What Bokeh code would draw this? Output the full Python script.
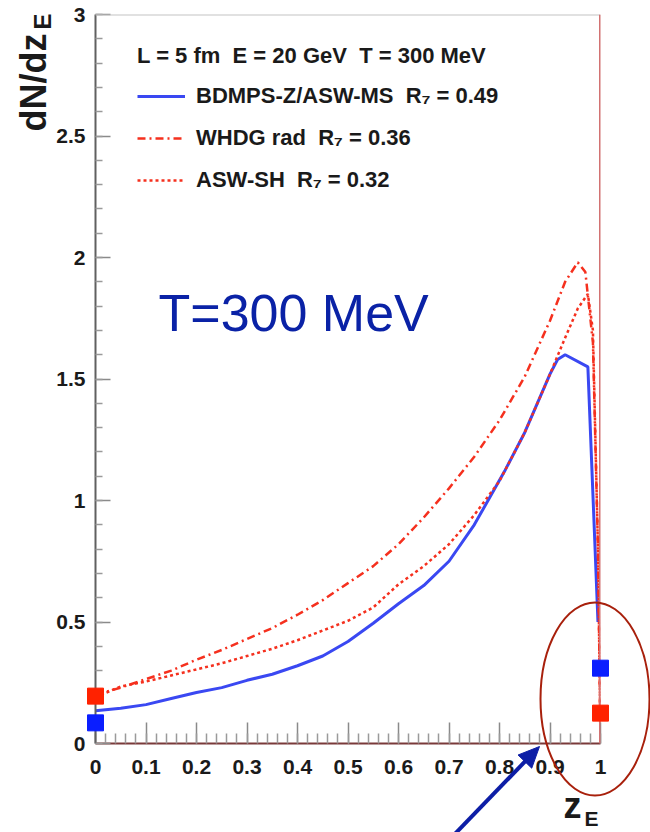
from bokeh.plotting import figure
from bokeh.models import (Range1d, FixedTicker, Label, Span, Legend, LegendItem)
from bokeh.core.properties import value
from bokeh.embed import file_html
from bokeh.resources import INLINE
import math

# ---------------- data ----------------
z_bdmps = [0.0, 0.05, 0.1, 0.15, 0.2, 0.25, 0.3, 0.35, 0.4, 0.45, 0.5, 0.55,
           0.6, 0.65, 0.7, 0.75, 0.81, 0.85, 0.9, 0.915, 0.93, 0.975, 0.995]
dn_bdmps = [0.135, 0.145, 0.16, 0.185, 0.21, 0.23, 0.26, 0.285, 0.32, 0.36,
            0.42, 0.495, 0.575, 0.65, 0.75, 0.90, 1.12, 1.28, 1.52, 1.58,
            1.60, 1.55, 0.50]

z_whdg = [0.0, 0.05, 0.1, 0.15, 0.2, 0.25, 0.3, 0.35, 0.4, 0.45, 0.5, 0.55,
          0.6, 0.65, 0.7, 0.75, 0.8, 0.85, 0.9, 0.93, 0.955, 0.97, 0.985,
          0.995, 1.0]
dn_whdg = [0.20, 0.23, 0.265, 0.30, 0.345, 0.385, 0.43, 0.475, 0.53, 0.59,
           0.66, 0.73, 0.82, 0.93, 1.05, 1.18, 1.33, 1.51, 1.74, 1.90, 1.98,
           1.94, 1.65, 0.80, 0.0]

z_asw = [0.0, 0.05, 0.1, 0.15, 0.2, 0.25, 0.3, 0.35, 0.4, 0.45, 0.5, 0.55,
         0.6, 0.65, 0.7, 0.75, 0.8, 0.85, 0.9, 0.93, 0.955, 0.975, 0.985,
         0.995, 1.0]
dn_asw = [0.19, 0.235, 0.255, 0.28, 0.305, 0.33, 0.36, 0.39, 0.425, 0.465,
          0.505, 0.56, 0.655, 0.73, 0.82, 0.94, 1.08, 1.28, 1.52, 1.67, 1.79,
          1.85, 1.70, 0.80, 0.0]

# discrete weights at z=0 and z=1
end_z = [0.0, 1.0]
end_bdmps = [0.085, 0.31]
end_red = [0.195, 0.125]

x_ticks = [0, 0.1, 0.2, 0.3, 0.4, 0.5, 0.6, 0.7, 0.8, 0.9, 1]
x_tick_labels = ["0", "0.1", "0.2", "0.3", "0.4", "0.5", "0.6", "0.7", "0.8", "0.9", "1"]
y_ticks = [0, 0.5, 1, 1.5, 2, 2.5, 3]
y_tick_labels = ["0", "0.5", "1", "1.5", "2", "2.5", "3"]

legend_header = "L = 5 fm  E = 20 GeV  T = 300 MeV"
legend_labels = ["BDMPS-Z/ASW-MS  R\u2087 = 0.49",
                 "WHDG rad  R\u2087 = 0.36",
                 "ASW-SH  R\u2087 = 0.32"]
big_label = "T=300 MeV"

# ---------------- layout ----------------
W, H = 650, 832
BL, BR, BT, BB = 95, 50, 14, 89
FW, FH = W - BL - BR, H - BT - BB
X0, X1, Y0, Y1 = 0.0, 1.0, 0.0, 3.0
FONT = "Liberation Sans"
INK = "#1a1a1a"


def dx(px):
    return X0 + (px - BL) / FW * (X1 - X0)


def dy(py):
    return Y0 + (H - BB - py) / FH * (Y1 - Y0)


p = figure(width=W, height=H, x_range=Range1d(X0, X1), y_range=Range1d(Y0, Y1),
           output_backend="svg", toolbar_location=None, title=None,
           min_border_left=BL, min_border_right=BR, min_border_top=BT,
           min_border_bottom=BB)
p.background_fill_color = "white"
p.border_fill_color = "white"
p.outline_line_color = None
p.grid.visible = False

# x axis
xa = p.xaxis[0]
xa.ticker = FixedTicker(ticks=x_ticks, minor_ticks=[i * 0.02 for i in range(51)])
xa.major_label_overrides = dict(zip(x_ticks, x_tick_labels))
xa.axis_line_color = "#7a3a3a"
xa.axis_line_width = 2
xa.major_tick_in = 21
xa.major_tick_out = 0
xa.minor_tick_in = 10
xa.minor_tick_out = 0
xa.major_tick_line_color = "#8a8a8a"
xa.minor_tick_line_color = "#9a9a9a"
xa.major_tick_line_width = 1.5
xa.minor_tick_line_width = 1.5
xa.major_label_standoff = 16
xa.major_label_text_font = FONT
xa.major_label_text_font_style = "bold"
xa.major_label_text_font_size = "21px"
xa.major_label_text_color = INK

# y axis
ya = p.yaxis[0]
ya.ticker = FixedTicker(ticks=y_ticks, minor_ticks=[i * 0.1 for i in range(31)])
ya.major_label_overrides = dict(zip(y_ticks, y_tick_labels))
ya.axis_line_color = "#606060"
ya.axis_line_width = 2
ya.major_tick_in = 15
ya.major_tick_out = 0
ya.minor_tick_in = 7
ya.minor_tick_out = 0
ya.major_tick_line_color = "#8a8a8a"
ya.minor_tick_line_color = "#9a9a9a"
ya.major_tick_line_width = 1.5
ya.minor_tick_line_width = 1.5
ya.major_label_standoff = 10
ya.major_label_text_font = FONT
ya.major_label_text_font_style = "bold"
ya.major_label_text_font_size = "21px"
ya.major_label_text_color = INK

# frame top / right borders
p.add_layout(Span(location=Y1, dimension="width", line_color="#c4c4c4", line_width=2))
p.add_layout(Span(location=X1, dimension="height", line_color="#d27272", line_width=3))

BLUE = "#3a48f2"
RED = "#f5301e"

r_b = p.line(z_bdmps, dn_bdmps, line_color=BLUE, line_width=3)
r_w = p.line(z_whdg, dn_whdg, line_color=RED, line_width=2.5, line_dash="8 4 2 4")
r_a = p.line(z_asw, dn_asw, line_color=RED, line_width=2.5, line_dash="3 3")

p.scatter(end_z, end_red, marker="square", size=16, fill_color="#ff2200",
          line_color="#ff2200", level="overlay")
p.scatter(end_z, end_bdmps, marker="square", size=16, fill_color="#0a1eff",
          line_color="#0a1eff", level="overlay")

# legend
legend = Legend(items=[LegendItem(label=legend_labels[0], renderers=[r_b]),
                       LegendItem(label=legend_labels[1], renderers=[r_w]),
                       LegendItem(label=legend_labels[2], renderers=[r_a])],
                location=(42, 542), title=legend_header,
                title_text_font=FONT, title_text_font_style="bold",
                title_text_font_size="22px", title_text_color=INK,
                title_standoff=6,
                label_text_font=FONT, label_text_font_style="bold",
                label_text_font_size="22px", label_text_color=INK,
                glyph_width=48, glyph_height=42, label_height=42,
                label_standoff=11, spacing=0, padding=0, margin=0,
                border_line_color=None, background_fill_alpha=0)
p.add_layout(legend)

# big blue label
p.add_layout(Label(x=dx(158), y=dy(312), text=big_label, text_font=FONT,
                   text_font_size="52px", text_color="#0a22a6",
                   text_baseline="alphabetic", text_align="left"))


# axis titles: text glyphs on the overlay level so they are not clipped to the frame.
# (bx, by) is the wanted baseline point; the anchor is the em-box middle.
def title_text(bx, by, txt, size, rotated=False, align="left"):
    shift = 0.3465 * size
    if rotated:
        ax, ay, ang = bx - shift, by, math.pi / 2
    else:
        ax, ay, ang = bx, by - shift, 0.0
    p.text(x=[dx(ax)], y=[dy(ay)], text=[txt], text_font=value(FONT),
           text_font_style="bold", text_font_size=value(f"{size}px"),
           text_color=INK, text_baseline="middle", text_align=align,
           angle=ang, level="overlay")


title_text(563, 817, "z", 36)
title_text(584, 825, "E", 21)
title_text(45, 33, "dN/dz", 36, rotated=True, align="right")
title_text(50, 13, "E", 24, rotated=True, align="right")

# highlight ellipse
p.ellipse(x=[dx(594.5)], y=[dy(698.5)], width=109 / FW * (X1 - X0),
          height=193 / FH * (Y1 - Y0), fill_color=None, line_color="#a8200c",
          line_width=2, level="overlay")

# pointing arrow (shaft + filled head), built in screen pixels
ARROW = "#0d1ea6"
tail, tip = (450.0, 838.0), (539.0, 746.0)
L_head, half_w = 21.0, 9.5
ux, uy = tip[0] - tail[0], tip[1] - tail[1]
norm = math.hypot(ux, uy)
ux, uy = ux / norm, uy / norm
nx, ny = -uy, ux
base = (tip[0] - L_head * ux, tip[1] - L_head * uy)
p.segment(x0=[dx(tail[0])], y0=[dy(tail[1])], x1=[dx(base[0] + 2 * ux)],
          y1=[dy(base[1] + 2 * uy)], line_color=ARROW, line_width=4,
          level="overlay")
head_px = [tip, (base[0] + half_w * nx, base[1] + half_w * ny),
           (base[0] - half_w * nx, base[1] - half_w * ny)]
p.patch(x=[dx(a) for a, _ in head_px], y=[dy(b) for _, b in head_px],
        fill_color=ARROW, line_color=ARROW, line_width=1, level="overlay")

open("out.html", "w").write(file_html(p, INLINE))
